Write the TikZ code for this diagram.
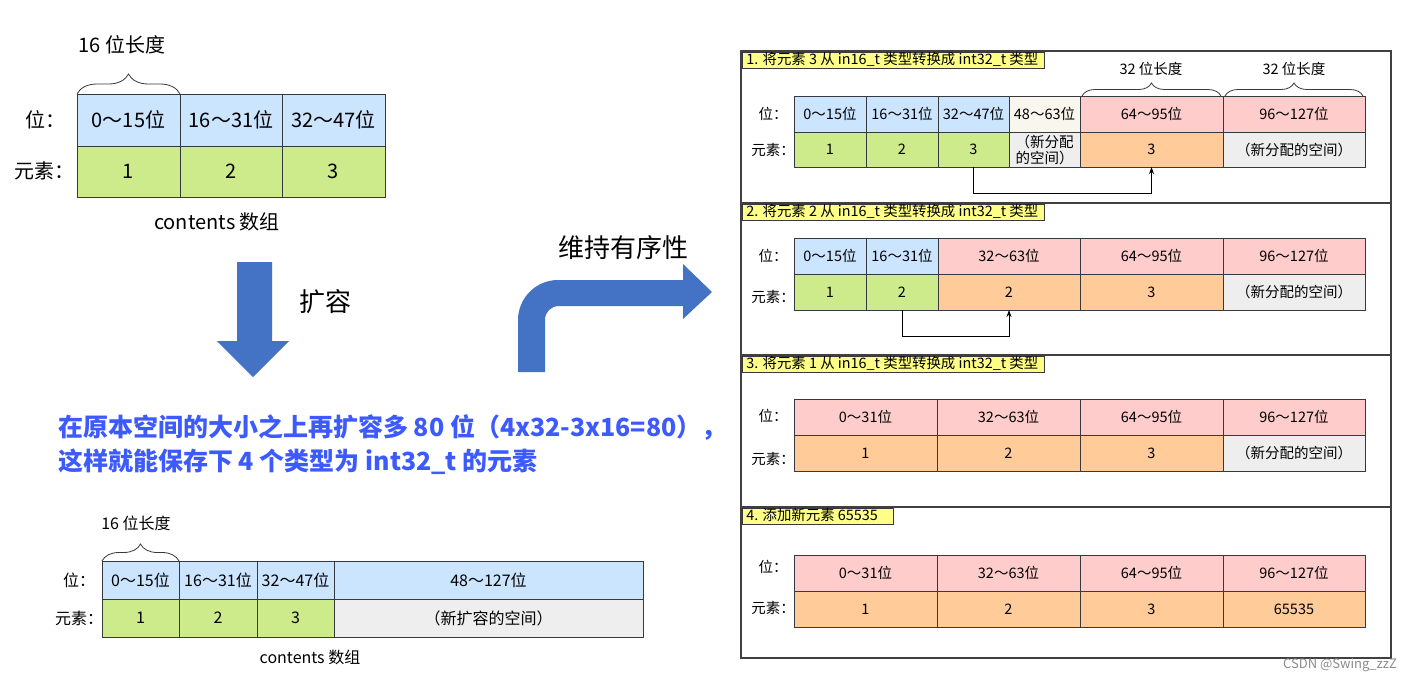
\documentclass[tikz,border=0pt]{standalone}
\usepackage{fontspec}
\setmainfont{Noto Sans CJK SC}
\usetikzlibrary{arrows.meta,decorations.pathreplacing}
\definecolor{hdrblue}{HTML}{CCE5FF}
\definecolor{elgreen}{HTML}{CDEB8B}
\definecolor{pinkc}{HTML}{FFCCCC}
\definecolor{orangec}{HTML}{FFCC99}
\definecolor{grayc}{HTML}{EEEEEE}
\definecolor{creamc}{HTML}{F9F7ED}
\definecolor{yellowc}{HTML}{FFFF88}
\definecolor{arrowblue}{HTML}{4472C4}
\definecolor{textblue}{RGB}{61,90,254}
\definecolor{linec}{HTML}{36393D}
\definecolor{framec}{HTML}{404040}
\newcommand\mycell[8][]{\node[cellst,fill=#7,minimum width={(#4-#2)*1pt},minimum height={(#5-#3)*1pt},#1] (#6) at ({(#2+#4)/2},{(#3+#5)/2}) {#8};}
\newcommand\lbltext[2]{\makebox[#1][l]{#2}}
\begin{document}
\begin{tikzpicture}[x=1pt,y=-1pt,
  cellst/.style={draw=linec,line width=0.9pt,inner sep=0pt,outer sep=0pt,align=center},
  fa/.style={font=\fontsize{20pt}{24pt}\selectfont},
  fb/.style={font=\fontsize{16pt}{19pt}\selectfont},
  fc/.style={font=\fontsize{14.5pt}{16pt}\selectfont},
  bracest/.style={draw=linec,line width=0.8pt,decorate},
  conn/.style={draw=black,line width=0.8pt,-{Stealth[length=7pt,width=5pt]}},
  lbl/.style={draw=linec,line width=0.8pt,fill=yellowc,anchor=north west,font=\fontsize{14.4pt}{16pt}\selectfont,
    inner ysep=0pt,inner xsep=4pt,text height=12pt,text depth=4pt},
  big/.style={font=\fontsize{26pt}{30pt}\selectfont},
  bluetxt/.style={font=\fontsize{25pt}{30pt}\selectfont\bfseries,text=textblue,anchor=west,inner sep=0pt}
]
\useasboundingbox (0,0) rectangle (1417,683);
\fill[white] (0,0) rectangle (1417,683);

% ---------- top-left table ----------
\begin{scope}[fa]
\mycell{77}{94}{180}{146}{ta1}{hdrblue}{0～15位}
\mycell{180}{94}{282}{146}{ta2}{hdrblue}{16～31位}
\mycell{282}{94}{385}{146}{ta3}{hdrblue}{32～47位}
\mycell{77}{146}{180}{197}{tb1}{elgreen}{1}
\mycell{180}{146}{282}{197}{tb2}{elgreen}{2}
\mycell{282}{146}{385}{197}{tb3}{elgreen}{3}
\node[fa] (tlw) at (45,120) {位：};
\node[fa] (tle) at (45,171) {元素：};
\node[fa] (tlen) at (122,45) {16 位长度};
\node[fa] (tcont) at (217,222) {contents 数组};
\end{scope}
\draw[bracest,decoration={brace,amplitude=20pt}] (ta1.north west) -- (ta1.north east);

% ---------- arrows ----------
\fill[arrowblue] (237,262) -- (272,262) -- (272,341) -- (289,341) -- (253,377) -- (217,341) -- (237,341) -- cycle;
\node[big] (kr) at (325,302) {扩容};
\fill[arrowblue] (518,372) -- (518,320) .. controls (518,298) and (536,280) .. (558,280) -- (683,280) -- (683,264) -- (712,292) -- (683,319) -- (683,306) -- (559,306) .. controls (551,306) and (545,312) .. (545,320) -- (545,372) -- cycle;
\node[big] (wc) at (623,248) {维持有序性};

% ---------- blue text ----------
\node[bluetxt] (bt1) at (58,428) {在原本空间的大小之上再扩容多 80 位（4x32-3x16=80），};
\node[bluetxt] (bt2) at (58,462) {这样就能保存下 4 个类型为 int32\_t 的元素};

% ---------- bottom table ----------
\begin{scope}[fb]
\mycell{102}{561}{179}{599}{ba1}{hdrblue}{0～15位}
\mycell{179}{561}{257}{599}{ba2}{hdrblue}{16～31位}
\mycell{257}{561}{334}{599}{ba3}{hdrblue}{32～47位}
\mycell{334}{561}{643}{599}{ba4}{hdrblue}{48～127位}
\mycell{102}{599}{179}{637}{bb1}{elgreen}{1}
\mycell{179}{599}{257}{637}{bb2}{elgreen}{2}
\mycell{257}{599}{334}{637}{bb3}{elgreen}{3}
\mycell{334}{599}{643}{637}{bb4}{grayc}{（新扩容的空间）}
\node[fb] (blw) at (79,580) {位：};
\node[fb] (ble) at (79,618) {元素：};
\node[fb] (blen) at (136,523) {16 位长度};
\node[fb] (bcont) at (310,657) {contents 数组};
\end{scope}
\draw[bracest,decoration={brace,amplitude=17pt}] (ba1.north west) -- (ba1.north east);

% ---------- right frame ----------
\draw[framec,line width=1.2pt] (741,51) rectangle (1391,658);
\draw[framec,line width=1.2pt] (741,203) -- (1391,203);
\draw[framec,line width=1.2pt] (741,355) -- (1391,355);
\draw[framec,line width=1.2pt] (741,507) -- (1391,507);

\node[lbl] (lab1) at (742,52) {\lbltext{294pt}{1. 将元素 3 从 in16\_t 类型转换成 int32\_t 类型}};
\node[lbl] (lab2) at (742,204) {\lbltext{294pt}{2. 将元素 2 从 in16\_t 类型转换成 int32\_t 类型}};
\node[lbl] (lab3) at (742,356) {\lbltext{294pt}{3. 将元素 1 从 in16\_t 类型转换成 int32\_t 类型}};
\node[lbl] (lab4) at (742,508) {\lbltext{143pt}{4. 添加新元素 65535}};

\begin{scope}[fc]
% panel 1
\mycell{794}{96}{866}{132}{p1a1}{hdrblue}{0～15位}
\mycell{866}{96}{938}{132}{p1a2}{hdrblue}{16～31位}
\mycell{938}{96}{1009}{132}{p1a3}{hdrblue}{32～47位}
\mycell{1009}{96}{1080}{132}{p1a4}{creamc}{48～63位}
\mycell{1080}{96}{1223}{132}{p1a5}{pinkc}{64～95位}
\mycell{1223}{96}{1365}{132}{p1a6}{pinkc}{96～127位}
\mycell{794}{132}{866}{167}{p1e1}{elgreen}{1}
\mycell{866}{132}{938}{167}{p1e2}{elgreen}{2}
\mycell{938}{132}{1009}{167}{p1e3}{elgreen}{3}
\mycell{1009}{132}{1080}{167}{p1e4}{grayc}{（新分配\\的空间）}
\mycell{1080}{132}{1223}{167}{p1e5}{orangec}{3}
\mycell{1223}{132}{1365}{167}{p1e6}{grayc}{（新分配的空间）}
\node[fc] (p1w) at (773,114) {位：};
\node[fc] (p1e) at (773,150) {元素：};
\node[fc] (p1l1) at (1151,69) {32 位长度};
\node[fc] (p1l2) at (1294,69) {32 位长度};
% panel 2
\mycell{794}{238}{866}{274}{p2a1}{hdrblue}{0～15位}
\mycell{866}{238}{938}{274}{p2a2}{hdrblue}{16～31位}
\mycell{938}{238}{1080}{274}{p2a3}{pinkc}{32～63位}
\mycell{1080}{238}{1223}{274}{p2a4}{pinkc}{64～95位}
\mycell{1223}{238}{1365}{274}{p2a5}{pinkc}{96～127位}
\mycell{794}{274}{866}{310}{p2e1}{elgreen}{1}
\mycell{866}{274}{938}{310}{p2e2}{elgreen}{2}
\mycell{938}{274}{1080}{310}{p2e3}{orangec}{2}
\mycell{1080}{274}{1223}{310}{p2e4}{orangec}{3}
\mycell{1223}{274}{1365}{310}{p2e5}{grayc}{（新分配的空间）}
\node[fc] (p2w) at (773,256) {位：};
\node[fc] (p2e) at (773,297) {元素：};
% panel 3
\mycell{794}{399}{937}{435}{p3a1}{pinkc}{0～31位}
\mycell{937}{399}{1080}{435}{p3a2}{pinkc}{32～63位}
\mycell{1080}{399}{1223}{435}{p3a3}{pinkc}{64～95位}
\mycell{1223}{399}{1365}{435}{p3a4}{pinkc}{96～127位}
\mycell{794}{435}{937}{471}{p3e1}{orangec}{1}
\mycell{937}{435}{1080}{471}{p3e2}{orangec}{2}
\mycell{1080}{435}{1223}{471}{p3e3}{orangec}{3}
\mycell{1223}{435}{1365}{471}{p3e4}{grayc}{（新分配的空间）}
\node[fc] (p3w) at (773,416) {位：};
\node[fc] (p3e) at (773,459) {元素：};
% panel 4
\mycell{794}{555}{937}{591}{p4a1}{pinkc}{0～31位}
\mycell{937}{555}{1080}{591}{p4a2}{pinkc}{32～63位}
\mycell{1080}{555}{1223}{591}{p4a3}{pinkc}{64～95位}
\mycell{1223}{555}{1365}{591}{p4a4}{pinkc}{96～127位}
\mycell{794}{591}{937}{627}{p4e1}{orangec}{1}
\mycell{937}{591}{1080}{627}{p4e2}{orangec}{2}
\mycell{1080}{591}{1223}{627}{p4e3}{orangec}{3}
\mycell{1223}{591}{1365}{627}{p4e4}{orangec}{65535}
\node[fc] (p4w) at (773,567) {位：};
\node[fc] (p4e) at (773,608) {元素：};
\end{scope}
\draw[bracest,decoration={brace,amplitude=13pt}] ([xshift=2pt]p1a5.north west) -- ([xshift=-2pt]p1a5.north east);
\draw[bracest,decoration={brace,amplitude=13pt}] ([xshift=2pt]p1a6.north west) -- ([xshift=-2pt]p1a6.north east);

\draw[conn] (p1e3.south) -- ++(0,26) -| (p1e5.south);
\draw[conn] (p2e2.south) -- ++(0,26) -| (p2e3.south);

\node[font=\fontsize{13pt}{15pt}\selectfont,text=black!45] (wm) at (1340,665) {CSDN @Swing\_zzZ};
\end{tikzpicture}
\end{document}
